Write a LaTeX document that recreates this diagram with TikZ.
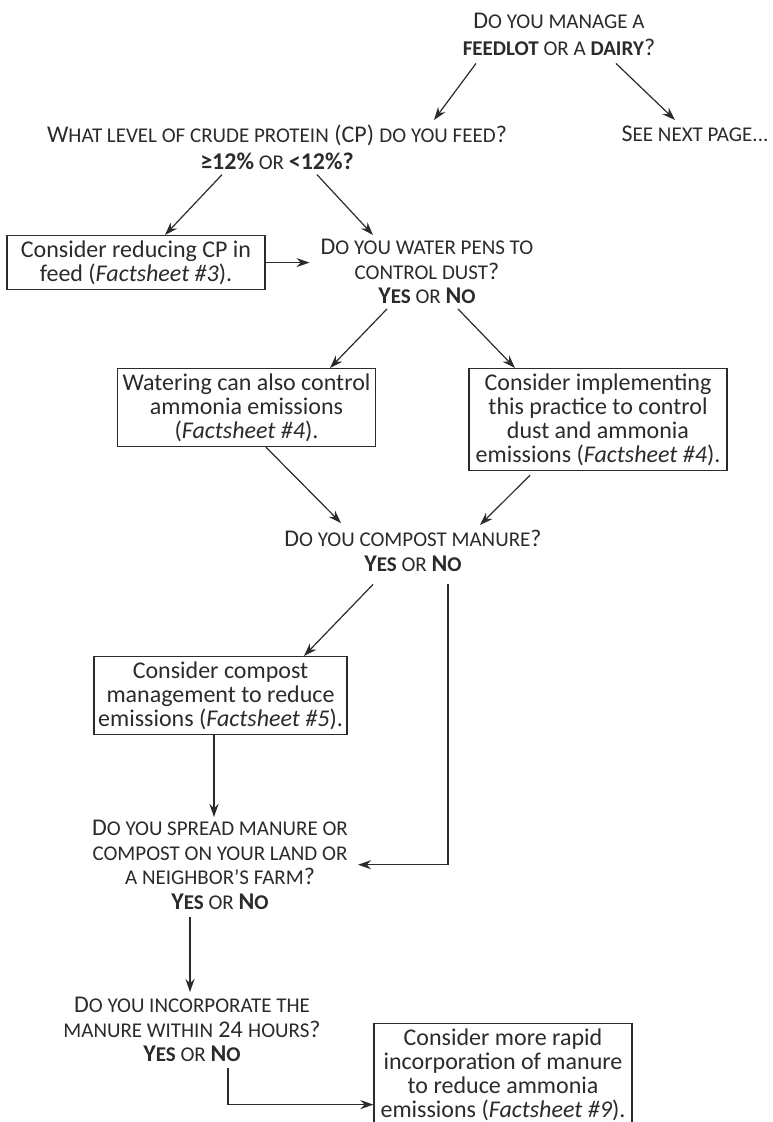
\documentclass[tikz,border=0pt]{standalone}
\usepackage{fontspec}
\setmainfont{Carlito}
\usetikzlibrary{arrows.meta}
\definecolor{ink}{gray}{0.17}
\newcommand\sm[1]{{\fontsize{21}{24}\selectfont #1}}
\tikzset{
  q/.style={align=center, inner sep=0pt, anchor=north, font=\fontsize{24}{24.5}\selectfont, text=ink},
  qa/.style={q, font=\fontsize{24}{26.5}\selectfont},
  box/.style={draw=ink, line width=1.2pt, align=center, minimum width=258pt, inner xsep=1pt, inner ysep=5pt, anchor=north, font=\fontsize{24}{24}\selectfont, text=ink},
  arr/.style={draw=ink, line width=1.2pt, -{Stealth[length=13pt,width=9pt]}},
}
\begin{document}
\begin{tikzpicture}[x=1pt,y=-1pt]
\useasboundingbox[fill=white] (0,0) rectangle (773,1122);
% questions
\node[qa] (q1) at (559,13) {D\sm{O YOU MANAGE A}\\ \textbf{\sm{FEEDLOT}}\sm{ OR A }\textbf{\sm{DAIRY}}?};
\node[qa] (q2) at (277,125) {W\sm{HAT LEVEL OF CRUDE PROTEIN} (CP) \sm{DO YOU FEED}?\\ \textbf{≥12\%}\sm{ OR }\textbf{<12\%?}};
\node[q] (q3) at (695,126) {S\sm{EE NEXT PAGE...}};
\node[q] (q4) at (427,239) {D\sm{O YOU WATER PENS TO}\\ \sm{CONTROL DUST}?\\ \textbf{Y\sm{ES}}\sm{ OR }\textbf{N\sm{O}}};
\node[q] (q5) at (413,530) {D\sm{O YOU COMPOST MANURE}?\\ \textbf{Y\sm{ES}}\sm{ OR }\textbf{N\sm{O}}};
\node[q] (q6) at (220,820) {D\sm{O YOU SPREAD MANURE OR}\\ \sm{COMPOST ON YOUR LAND OR}\\ \sm{A NEIGHBOR’S FARM}?\\ \textbf{Y\sm{ES}}\sm{ OR }\textbf{N\sm{O}}};
\node[q] (q7) at (192,997) {D\sm{O YOU INCORPORATE THE}\\ \sm{MANURE WITHIN} 24 \sm{HOURS}?\\ \textbf{Y\sm{ES}}\sm{ OR }\textbf{N\sm{O}}};
% boxes
\node[box] (b1) at (136,235) {Consider reducing CP in\\ feed (\textit{Factsheet \#3}).};
\node[box] (b2) at (246.5,368) {Watering can also control\\ ammonia emissions\\ (\textit{Factsheet \#4}).};
\node[box] (b3) at (598,368) {Consider implementing\\ this practice to control\\ dust and ammonia\\ emissions (\textit{Factsheet \#4}).};
\node[box, minimum width=253pt] (b4) at (220.5,656) {Consider compost\\ management to reduce\\ emissions (\textit{Factsheet \#5}).};
\node[box] (b5) at (503,1023) {Consider more rapid\\ incorporation of manure\\ to reduce ammonia\\ emissions (\textit{Factsheet \#9}).};
% connectors
\draw[arr] ([xshift=-83pt,yshift=-8pt]q1.south) -- ([xshift=157pt,yshift=5pt]q2.north);
\draw[arr] ([xshift=57pt,yshift=-8pt]q1.south) -- ([xshift=-20pt,yshift=6pt]q3.north);
\draw[arr] ([xshift=-55pt,yshift=-5pt]q2.south) -- ([xshift=29pt]b1.north);
\draw[arr] ([xshift=40pt,yshift=-5pt]q2.south) -- ([xshift=-54pt,yshift=4pt]q4.north);
\draw[arr, shorten >=11pt] (b1.east) -- (b1.east -| q4.west);
\draw[arr] ([xshift=-40pt,yshift=-5pt]q4.south) -- ([xshift=83.5pt]b2.north);
\draw[arr] ([xshift=31pt,yshift=-5pt]q4.south) -- ([xshift=-83pt]b3.north);
\draw[arr] ([xshift=19.5pt]b2.south) -- ([xshift=-72pt,yshift=7pt]q5.north);
\draw[arr] ([xshift=-68pt,yshift=-4pt]b3.south) -- ([xshift=67pt,yshift=5pt]q5.north);
\draw[arr] ([xshift=-40pt,yshift=-13pt]q5.south) -- ([xshift=83.5pt]b4.north);
\draw[arr] ([xshift=-6.5pt]b4.south) -- ([xshift=-6pt,yshift=3pt]q6.north);
\draw[arr] ([xshift=35pt,yshift=-13pt]q5.south) |- ([xshift=10pt]q6.east);
\draw[arr] ([xshift=-30pt,yshift=-8pt]q6.south) -- ([xshift=-2pt,yshift=5pt]q7.north);
\draw[arr] ([xshift=36pt,yshift=-6pt]q7.south) |- ([yshift=-30pt]b5.west);
\end{tikzpicture}
\end{document}
